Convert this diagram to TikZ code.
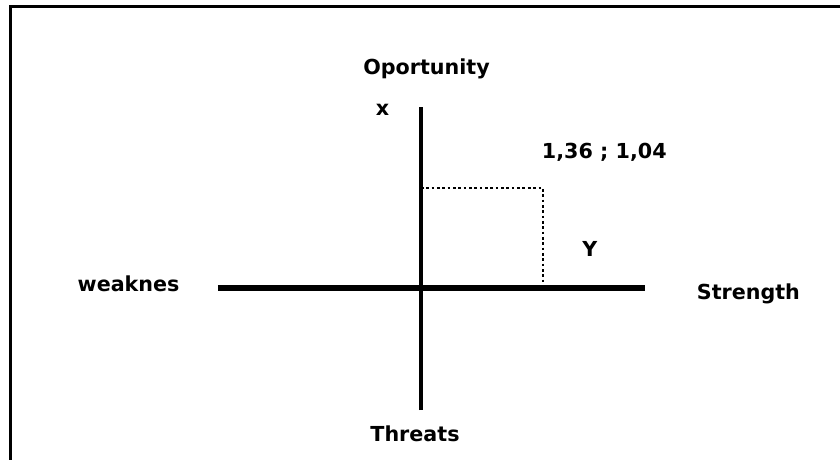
\documentclass[tikz,border=0pt]{standalone}
\usepackage{fontspec}
\setmainfont{DejaVu Sans}
\usepackage{tikz}
\usetikzlibrary{positioning, calc}

\tikzset{
  axisline/.style={line width=#1, black},
  guideline/.style={line width=2pt, dash pattern=on 1.9pt off 1.9pt},
  swotlabel/.style={font=\fontsize{14.7}{17}\selectfont\bfseries, inner sep=0pt}
}

\begin{document}
\begin{tikzpicture}
  \clip (-10.525,-4.275) rectangle (10.475,7.2);

  % Frame
  \draw[line width=2pt] (-10.2625,-6) -- (-10.2625,7.0375) -- (12,7.0375);

  % Axes
  \coordinate (weakend) at (-5.075,0);
  \coordinate (strengthend) at (5.6,0);
  \coordinate (opportend) at (0,4.525);
  \coordinate (threatend) at (0,-3.05);
  \draw[axisline=4.25pt] (weakend) -- (strengthend);
  \draw[axisline=3.5pt] (threatend) -- (opportend);

  % Point and guides
  \coordinate (point) at (3.05,2.5);
  \coordinate (xfoot) at (0,2.5);
  \coordinate (yfoot) at (3.05,0);
  \draw[guideline] (xfoot) -- (point) -- (yfoot);

  % Labels
  \node[swotlabel, anchor=base] (opport) at (0.1375,5.35) {Oportunity};
  \node[swotlabel, anchor=base] (threat) at (-0.15,-3.84) {Threats};
  \node[swotlabel, anchor=base west] (weak) at (-8.59,-0.09) {weaknes};
  \node[swotlabel, anchor=base west] (strength) at (6.89,-0.275) {Strength};
  \node[swotlabel, anchor=base] (xlabel) at (-0.96,4.325) {x};
  \node[swotlabel, anchor=base] (ylabel) at (4.22,0.78) {Y};
  \node[swotlabel, anchor=base west] (value) at (3.0175,3.24) {1,36 ; 1,04};
\end{tikzpicture}
\end{document}
